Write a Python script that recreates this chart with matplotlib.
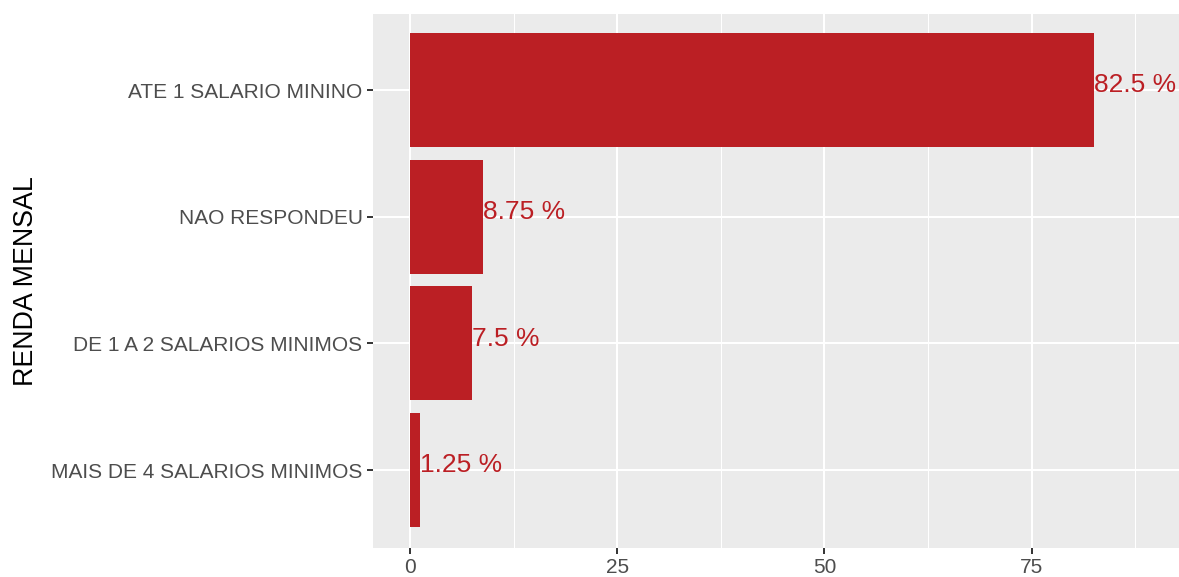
#!/usr/bin/env python3
"""Bar chart of monthly income."""

import numpy as np
import matplotlib
matplotlib.use("Agg")
import matplotlib.pyplot as plt
from matplotlib.ticker import MultipleLocator

categories = ["ATE 1 SALARIO MININO", "NAO RESPONDEU",
              "DE 1 A 2 SALARIOS MINIMOS", "MAIS DE 4 SALARIOS MINIMOS"]
values = [82.5, 8.75, 7.5, 1.25]
labels = ["82.5 %", "8.75 %", "7.5 %", "1.25 %"]
xticks = [0, 25, 50, 75]

plt.rcParams['font.family'] = ['Liberation Sans', 'DejaVu Sans']

red = "#BB1F24"
fig = plt.figure(figsize=(11.79, 5.77), dpi=100)
ax = fig.add_axes([373 / 1179, 1 - 548 / 577, 1 - 373 / 1179, (548 - 14) / 577])
ax.set_facecolor("#EBEBEB")

Y = np.arange(len(categories))
ax.barh(Y, values, height=0.9, color=red, zorder=3)
for y, v, lab in zip(Y, values, labels):
    ax.annotate(lab, (v, y), xytext=(0, 3.5), textcoords="offset points",
                color=red, fontsize=19, ha="left", va="center", zorder=4)

ax.set_xlim(-4.46, 92.76)
ax.set_ylim(3.615, -0.6)
ax.set_xticks(xticks, labels=[str(t) for t in xticks])
ax.xaxis.set_minor_locator(MultipleLocator(12.5))
ax.set_yticks(Y, labels=categories)

ax.grid(which="major", color="white", linewidth=1.5, zorder=0)
ax.grid(which="minor", axis="x", color="white", linewidth=0.75, zorder=0)
ax.set_axisbelow(True)

for s in ax.spines.values():
    s.set_visible(False)
ax.tick_params(which="major", length=4.5, width=1.4, color="#333333",
               labelsize=15, labelcolor="#4D4D4D", pad=3)
ax.tick_params(which="minor", length=0)

ax.set_ylabel("RENDA MENSAL", fontsize=19.3, color="black", labelpad=9)

fig.savefig("out.png", dpi=100)
